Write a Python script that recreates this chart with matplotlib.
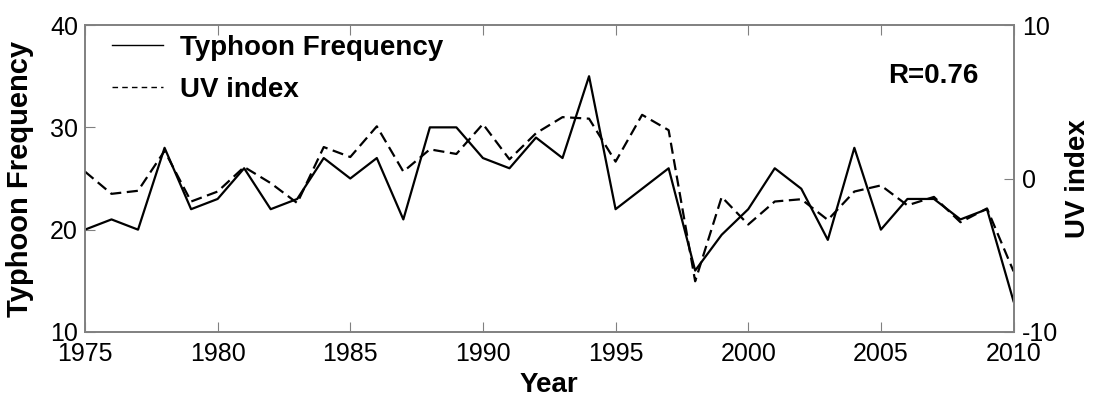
import matplotlib.pyplot as plt

years = list(range(1975, 2011))
typhoon_freq = [20, 21, 20, 28, 22, 23, 26, 22, 23, 27, 25, 27, 21, 30, 30, 27,
                26, 29, 27, 35, 22, 24, 26, 16, 19.5, 22, 26, 24, 19, 28, 20, 23,
                23, 21, 22, 13]
uv_index = [0.45, -1.0, -0.8, 1.8, -1.5, -0.85, 0.75, -0.3, -1.6, 2.05, 1.4, 3.4,
            0.45, 1.9, 1.6, 3.55, 1.25, 2.95, 4.0, 3.9, 1.1, 4.15, 3.15, -6.7,
            -1.2, -3.0, -1.5, -1.35, -2.7, -0.85, -0.45, -1.75, -1.2, -2.85,
            -1.95, -6.05]

plt.rcParams["font.family"] = ["Liberation Sans", "DejaVu Sans"]
plt.rcParams["axes.unicode_minus"] = False

fig = plt.figure(figsize=(10.95, 3.98), dpi=100)
ax = fig.add_axes([0.0776, 0.166, 0.848, 0.771])
ax2 = ax.twinx()

spine_col = "#808080"
l1, = ax.plot(years, typhoon_freq, color="black", lw=1.6, ls="-")
l2, = ax2.plot(years, uv_index, color="black", lw=1.6, ls=(0, (5, 2.5)))

ax.set_xlim(1975, 2010)
ax.set_ylim(10, 40)
ax2.set_ylim(-10, 10)
ax.set_xticks(range(1975, 2011, 5))
ax.set_yticks([10, 20, 30, 40])
ax2.set_yticks([-10, 0, 10])

for a in (ax, ax2):
    for s in a.spines.values():
        s.set_color(spine_col)
        s.set_linewidth(1.2)
ax.tick_params(axis="x", direction="in", length=7, color=spine_col,
               labelsize=18, top=True, pad=7)
ax.tick_params(axis="y", direction="in", length=7, color=spine_col,
               labelsize=18, pad=5)
ax2.tick_params(axis="y", direction="in", length=7, color=spine_col,
                labelsize=18, pad=6)

ax.set_xlabel("Year", fontsize=20, fontweight="bold")
ax.xaxis.set_label_coords(0.5, -0.13)
ax.set_ylabel("Typhoon Frequency", fontsize=21, fontweight="bold")
ax.yaxis.set_label_coords(-0.055, 0.5)
ax2.set_ylabel("UV index", fontsize=20, fontweight="bold", rotation=90)
ax2.yaxis.set_label_coords(1.055, 0.5)

leg = ax.legend([l1, l2], ["Typhoon Frequency", "UV index"], loc="upper left",
                frameon=False, prop={"size": 20, "weight": "bold"},
                handlelength=1.85, handletextpad=0.6, borderaxespad=0,
                labelspacing=0.58, bbox_to_anchor=(0.017, 1.005))
for ln in leg.get_lines():
    ln.set_linewidth(1.0)
leg.get_lines()[1].set_dashes([4, 3])

ax.text(0.962, 0.834, "R=0.76", transform=ax.transAxes, ha="right", va="center",
        fontsize=20, fontweight="bold")

fig.savefig("out.png", dpi=100)
